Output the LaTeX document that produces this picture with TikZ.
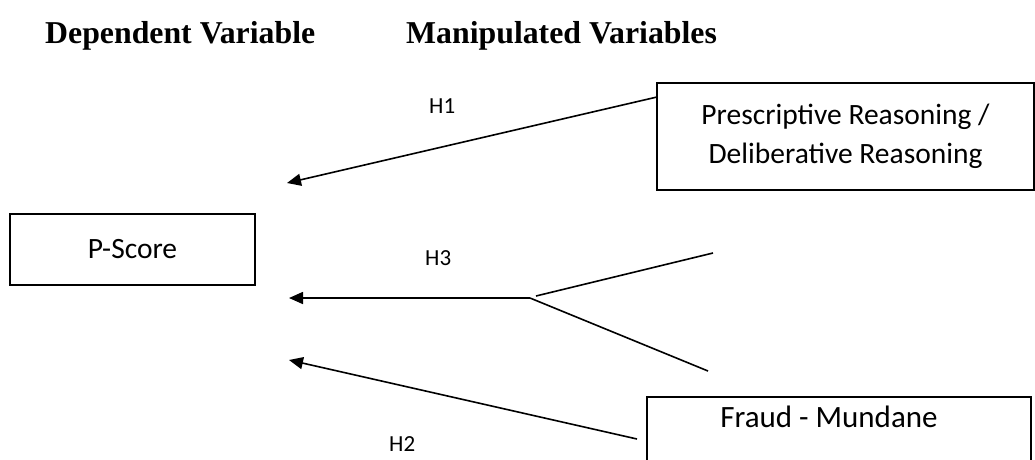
\documentclass[tikz,border=0pt]{standalone}
\usepackage{fontspec}
\setmainfont{Liberation Serif}
\newfontfamily\bodyfont{Carlito}
\usetikzlibrary{arrows.meta}
\begin{document}
\begin{tikzpicture}[x=1pt,y=-1pt,
  box/.style={draw,line width=1.6pt,inner sep=0pt,font=\bodyfont\fontsize{29.5}{39}\selectfont,align=center},
  head/.style={font=\bfseries\fontsize{31.8}{38}\selectfont,anchor=base west,inner sep=0pt},
  lab/.style={font=\bodyfont\fontsize{23}{28}\selectfont,anchor=base west,inner sep=0pt},
  conn/.style={line width=1.6pt},
  arr/.style={conn,-{Triangle[length=14pt,width=12pt]}}]
\useasboundingbox (0,0) rectangle (1035,459);
\node[head] (dv) at (45,43) {Dependent Variable};
\node[head] (mv) at (406,43) {Manipulated Variables};
\node[box,minimum width=377pt,minimum height=107pt] (pres) at (845.5,136.5) {Prescriptive Reasoning /\\Deliberative Reasoning};
\node[box,minimum width=245pt,minimum height=71pt] (ps) at (132.5,249.5) {P-Score};
\node[box,minimum width=384pt,minimum height=90pt] (fraud) at (839,442) {};
\node[font=\bodyfont\fontsize{31}{39}\selectfont,anchor=base,inner sep=0pt] (ftext) at (829,427) {Fraud - Mundane};
\node[lab] (h1) at (429,113) {H1};
\node[lab] (h3) at (425,265) {H3};
\node[lab] (h2) at (389,451) {H2};
\coordinate (h1s) at (657,97);
\coordinate (h1e) at (287,183);
\coordinate (fork) at (530,298);
\coordinate (forka) at (536,296);
\coordinate (fu) at (713,253);
\coordinate (fl) at (708,371);
\coordinate (h3e) at (289,298);
\coordinate (h2s) at (637,439);
\coordinate (h2e) at (289,360);
\draw[arr] (h1s) -- (h1e);
\draw[arr] (fork) -- (h3e);
\draw[conn] (forka) -- (fu);
\draw[conn] (fork) -- (fl);
\draw[arr] (h2s) -- (h2e);
\end{tikzpicture}
\end{document}
